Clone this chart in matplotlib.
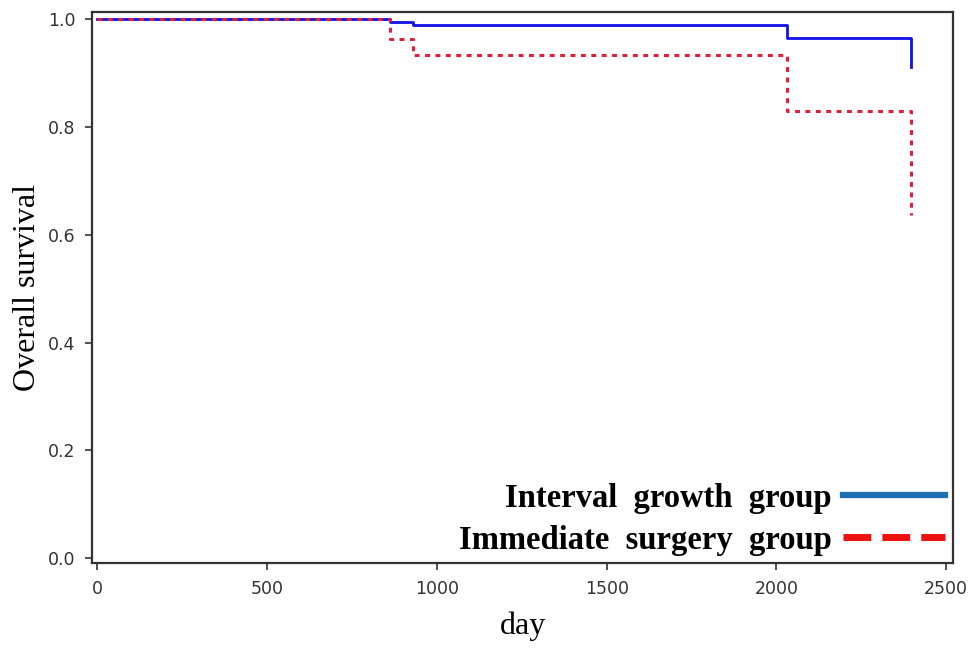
import matplotlib
matplotlib.use('Agg')
import matplotlib.pyplot as plt
from matplotlib.lines import Line2D

# Kaplan-Meier step data
interval_days = [0, 863, 930, 2032, 2397]
interval_surv = [1.0, 0.995, 0.988, 0.965, 0.911]
immediate_days = [0, 863, 930, 2032, 2397]
immediate_surv = [1.0, 0.963, 0.933, 0.829, 0.637]
last_day = 2397

group_labels = ['Interval  growth  group', 'Immediate  surgery  group']
x_ticks = [0, 500, 1000, 1500, 2000, 2500]
y_ticks = [0.0, 0.2, 0.4, 0.6, 0.8, 1.0]

fig = plt.figure(figsize=(9.7, 6.48), dpi=100)
ax = fig.add_axes([0.095, 0.131, 0.8875, 0.8505])

# survival curves, final drop drawn at the last day
ax.step(interval_days + [last_day], interval_surv + [interval_surv[-1]],
        where='post', color='#1010e8', lw=2)
ax.step(immediate_days + [last_day], immediate_surv + [immediate_surv[-1]],
        where='post', color='#e0203a', lw=2.2, linestyle=(0, (1.6, 1.8)))

ax.set_xlim(-15, 2520)
ax.set_ylim(-0.009, 1.013)
ax.set_xticks(x_ticks)
ax.set_yticks(y_ticks)
ax.set_yticklabels([f'{v:.1f}' for v in y_ticks])
ax.tick_params(direction='out', length=5, width=1.2, colors='#333333', pad=7)
for lab in ax.get_xticklabels() + ax.get_yticklabels():
    lab.set_fontsize(12.5)
    lab.set_family('DejaVu Sans')
for sp in ax.spines.values():
    sp.set_linewidth(1.6)
    sp.set_color('#333333')

ax.set_xlabel('day', family='Liberation Serif', fontsize=23, labelpad=10)
ax.set_ylabel('Overall survival', family='Liberation Serif', fontsize=23, labelpad=4)

handles = [
    Line2D([], [], color='#1f6eb4', lw=4.5),
    Line2D([], [], color='#ee1111', lw=5, linestyle=(0, (4, 1.6))),
]
ax.legend(handles, group_labels, loc='lower right', bbox_to_anchor=(1.013, -0.022),
          markerfirst=False, frameon=False, handlelength=3.1, handletextpad=0.35,
          labelspacing=0.33, borderaxespad=0.2,
          prop={'family': 'Liberation Serif', 'weight': 'bold', 'size': 23.5})

fig.savefig('out.png', dpi=100)
